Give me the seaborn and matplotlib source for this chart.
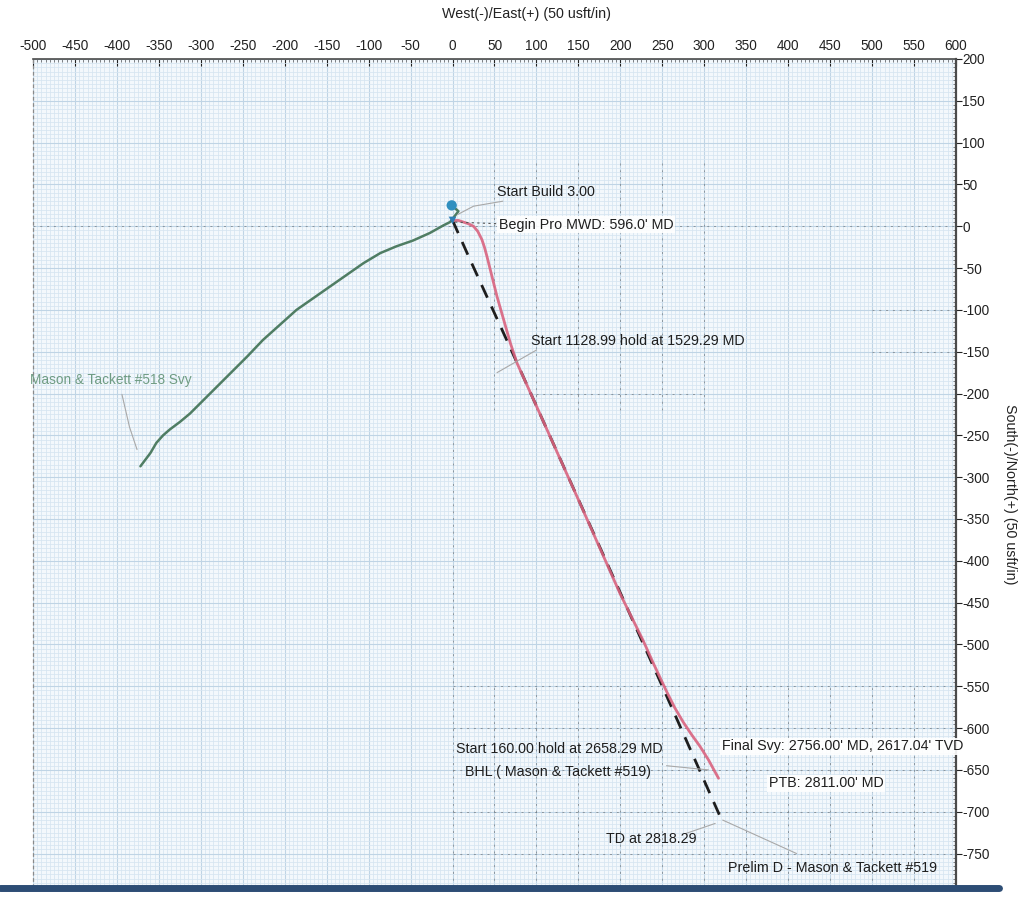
import numpy as np
import pandas as pd
import matplotlib
matplotlib.use("Agg")
import matplotlib.pyplot as plt
from matplotlib.ticker import MultipleLocator
from matplotlib.lines import Line2D
import seaborn as sns

# ---------------- data ----------------
green_x = [-372, -366, -360, -353, -345, -337, -325, -313, -297, -281, -265, -245, -226,
           -206, -186, -166, -146, -126, -106, -86, -67, -47, -27, -11, -3, 7, -1]
green_y = [-287, -279, -271, -259, -250, -243, -234, -224, -208, -192, -176, -156, -136,
           -118, -100, -86, -72, -58, -44, -32, -24, -17, -8, 1, 5, 18, 25]

pink_x = [1, 7, 13, 19, 25, 30, 35, 38, 41, 47, 53, 61, 69, 77, 100, 150, 200, 227,
          240, 255, 265, 275, 285, 295, 305, 317]
pink_y = [7, 7, 5, 3, 0, -6, -16, -25, -36, -60, -84, -112, -140, -164, -215, -327, -440,
          -495, -524, -556, -576, -593, -608, -622, -638, -660]

plan_x = [0, 20, 70, 130, 190, 250, 319]
plan_y = [7, -38, -148, -282, -416, -550, -706]

dot_x = [-1]
dot_y = [25]
start_x = [0]
start_y = [7]

x_ticks = list(range(-500, 601, 50))
y_ticks = list(range(-750, 201, 50))
x_tick_labels = [str(v) for v in x_ticks]
y_tick_labels = [str(v) for v in y_ticks]

labels = ["Start Build 3.00", "Begin Pro MWD: 596.0' MD",
          "Start 1128.99 hold at 1529.29 MD", "Mason & Tackett #518 Svy",
          "Start 160.00 hold at 2658.29 MD", "BHL ( Mason & Tackett #519)",
          "Final Svy: 2756.00' MD, 2617.04' TVD", "PTB: 2811.00' MD",
          "TD at 2818.29", "Prelim D - Mason & Tackett #519"]
label_x = [53, 55, 94, -504, 4, 15, 321, 377, 183, 328]
label_y = [41, 2, -137, -184, -625, -652, -622, -666, -733, -767]

# ---------------- style ----------------
sns.set_theme(style="white")
plt.rcParams["font.family"] = ["Liberation Sans", "DejaVu Sans"]

fig = plt.figure(figsize=(10.25, 8.98), dpi=100)
ax = fig.add_axes([33 / 1025, 1 - 887 / 898, (956 - 33) / 1025, (887 - 59) / 898])
ax.set_facecolor("#f3f8fc")

ax.set_xlim(-500, 600)
ax.set_ylim(-790, 200)

# graph-paper grid
ax.xaxis.set_minor_locator(MultipleLocator(5))
ax.yaxis.set_minor_locator(MultipleLocator(5))
ax.set_xticks(x_ticks)
ax.set_xticklabels(x_tick_labels)
ax.set_yticks(y_ticks)
ax.set_yticklabels(y_tick_labels)
ax.grid(which="minor", color="#d6e5f1", lw=0.55)
ax.grid(which="major", color="#bfd4e5", lw=0.8)
ax.set_axisbelow(True)

ax.xaxis.tick_top()
ax.yaxis.tick_right()
ax.tick_params(axis="x", which="major", direction="in", length=5, width=0.8,
               labelsize=9.8, pad=4, colors="#222222")
ax.tick_params(axis="x", which="minor", direction="in", length=2.5, width=0.5, color="#555555")
ax.tick_params(axis="y", which="major", direction="out", length=4, width=0.8,
               labelsize=9.8, pad=0.5, colors="#222222")
ax.tick_params(axis="y", which="minor", direction="in", length=2.5, width=0.5, color="#555555")

for s in ["top", "right"]:
    ax.spines[s].set_color("#4a4a4a")
ax.spines["top"].set_linewidth(1.2)
ax.spines["right"].set_linewidth(1.6)
ax.spines["left"].set_color("#8a8a8a")
ax.spines["left"].set_linestyle((0, (2, 3)))
ax.spines["left"].set_linewidth(0.9)
ax.spines["bottom"].set_visible(False)

# faint dashed plan grid fragments
dash_kw = dict(colors="#555555", linewidth=0.7, alpha=0.5, linestyles=(0, (2, 5)), zorder=1.5)
ax.hlines(0, -500, 600, **dash_kw)
ax.vlines(0, -790, 0, **dash_kw)
ax.vlines(np.arange(50, 301, 50), -220, 80, **dash_kw)
ax.vlines(np.arange(50, 551, 50), -790, -550, **dash_kw)
ax.hlines(np.arange(-750, -549, 50), 0, 600, **dash_kw)
ax.hlines([-100, -150], 500, 600, **dash_kw)
ax.hlines([-200], 100, 300, **dash_kw)

# ---------------- trajectories ----------------
sns.lineplot(x=green_x, y=green_y, sort=False, ax=ax, color="#4f7d63", lw=1.8, estimator=None)
sns.lineplot(x=plan_x, y=plan_y, sort=False, ax=ax, color="#1e1e1e", lw=2.0,
             linestyle=(0, (5, 3.5)), estimator=None)
sns.lineplot(x=pink_x, y=pink_y, sort=False, ax=ax, color="#d9637f", lw=2.0,
             estimator=None, alpha=0.9)
sns.scatterplot(x=dot_x, y=dot_y, ax=ax, color="#2f8fbf", s=55, edgecolor="none", zorder=5)
sns.scatterplot(x=start_x, y=start_y, ax=ax, color="#2f7fb5", marker="v", s=30,
                edgecolor="none", zorder=5)

# ---------------- leaders ----------------
lead = dict(color="#a8a8a8", lw=0.8, zorder=2)
ax.plot([6, 25, 60], [14, 24, 30], **lead)
ax.plot([3, 55], [5, 3], color="#555555", lw=0.8, ls=(0, (2, 3)), zorder=2)
ax.plot([53, 100], [-175, -148], **lead)
ax.plot([-394, -385, -376], [-201, -240, -267], **lead)
ax.plot([255, 305], [-645, -650], **lead)
ax.plot([278, 313], [-726, -714], **lead)
ax.plot([322, 410], [-710, -750], **lead)

# ---------------- annotations ----------------
for t, x, y in zip(labels, label_x, label_y):
    kw = dict(fontsize=10.3, color="#1e1e1e", va="center", ha="left", zorder=6, clip_on=False)
    if t.startswith("Mason & Tackett #518"):
        kw["color"] = "#6f9c83"
        kw["fontsize"] = 9.8
    if t.startswith(("Begin", "Final", "PTB")):
        kw["bbox"] = dict(facecolor="white", edgecolor="none", pad=1.2, alpha=0.9)
    ax.text(x, y, t, **kw)

fig.text(526 / 1025, 1 - 14 / 898, "West(-)/East(+) (50 usft/in)", ha="center", va="center",
         fontsize=10.3, color="#222222")
fig.text(1010 / 1025, 1 - 494 / 898, "South(-)/North(+) (50 usft/in)", ha="center", va="center",
         rotation=270, fontsize=10.3, color="#222222")

# scan edge band at the bottom
fig.add_artist(Line2D([0, 0.975], [1 - 888 / 898, 1 - 888 / 898], transform=fig.transFigure,
                      color="#2d4d75", lw=5))

fig.savefig("out.png", dpi=100, facecolor="white")
